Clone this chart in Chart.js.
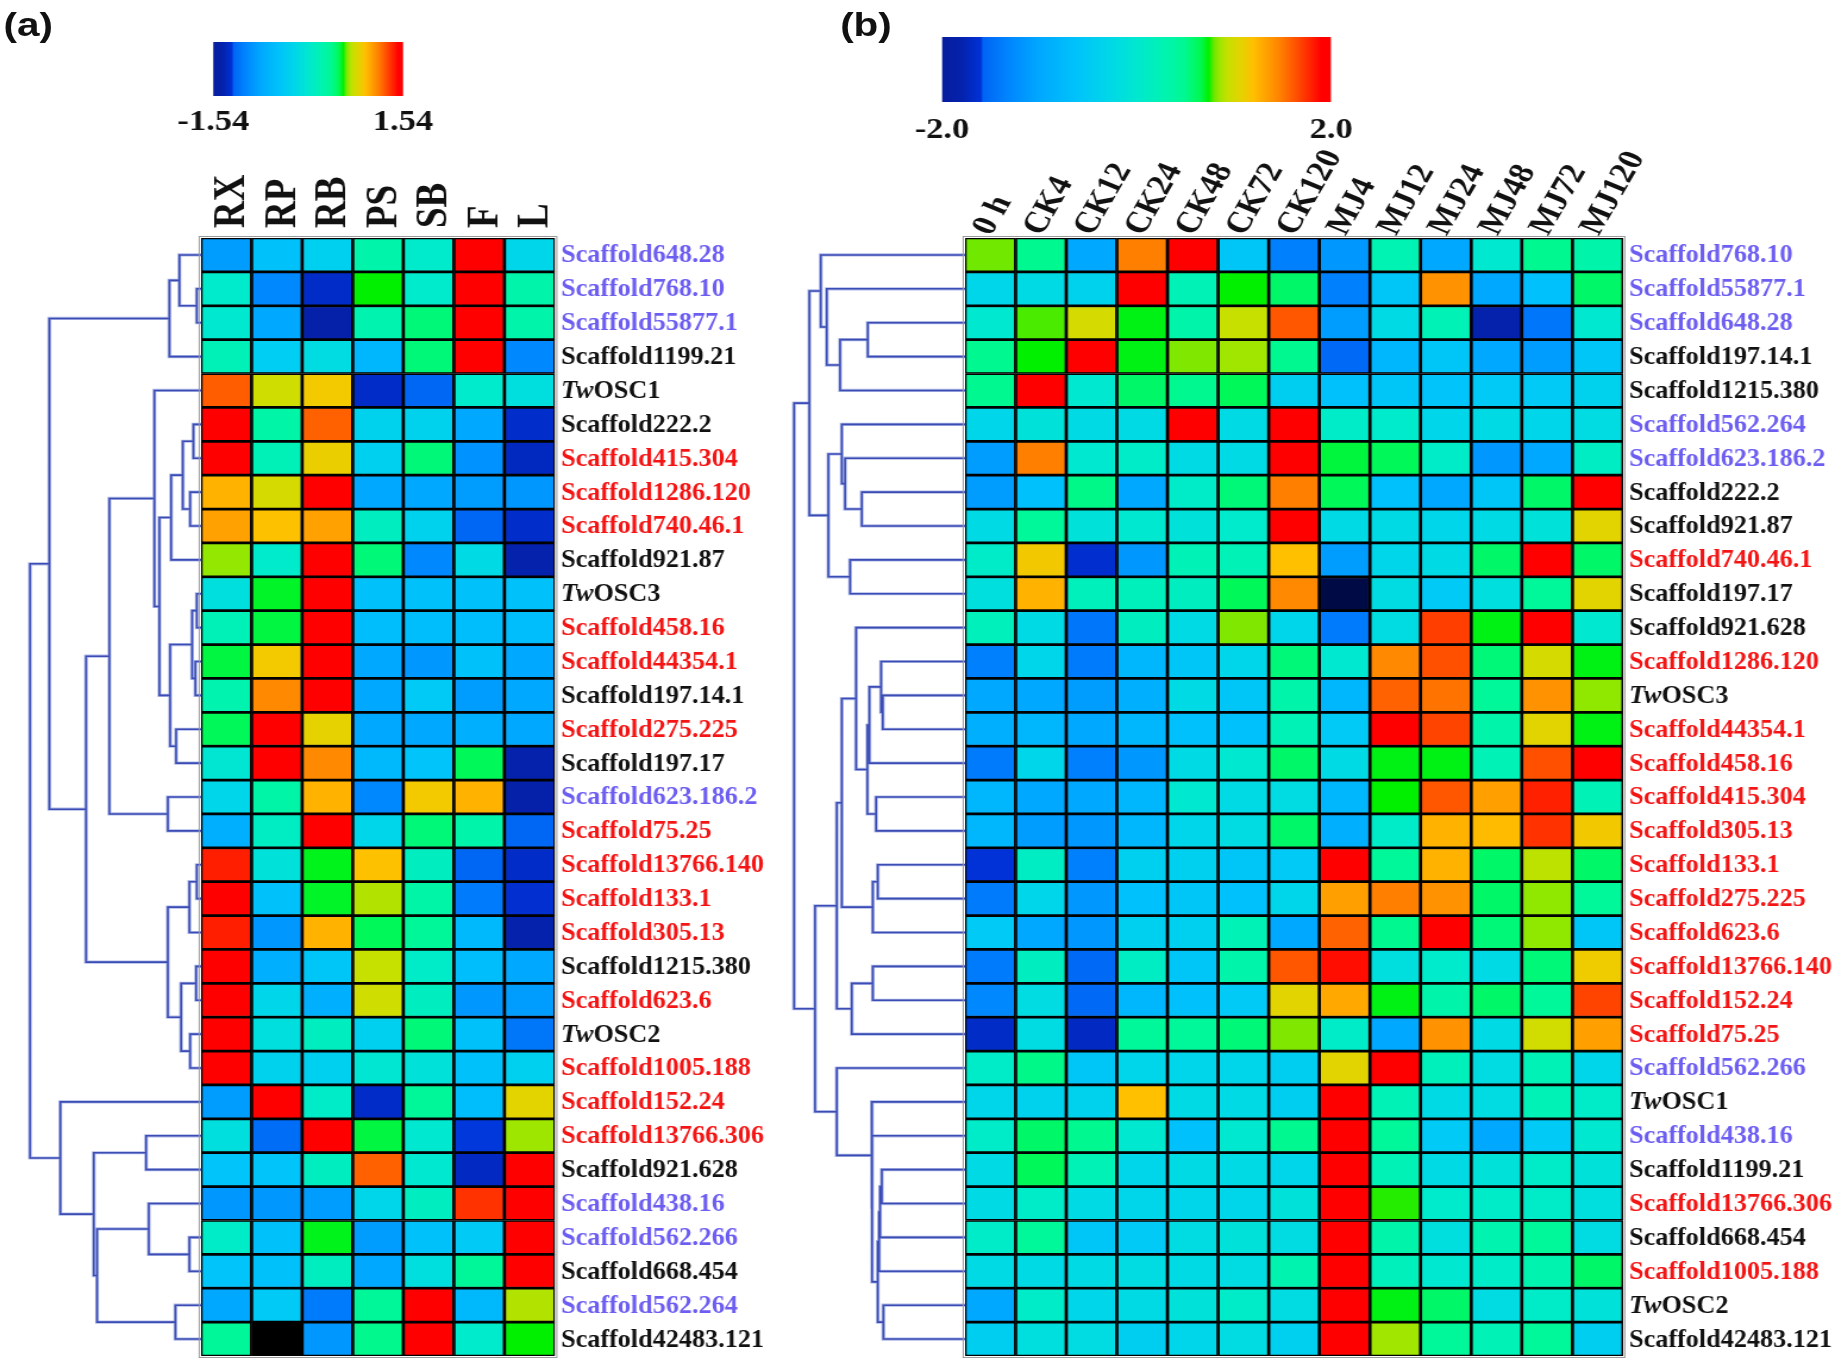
<!DOCTYPE html>
<html><head><meta charset="utf-8">
<script src="https://cdn.jsdelivr.net/npm/chart.js@4.4.1/dist/chart.umd.min.js"></script>
<style>
html,body{margin:0;padding:0;background:#fff;width:1840px;height:1362px;overflow:hidden}
#stage{position:absolute;left:0;top:0;width:1546px;height:1362px;transform:scaleX(1.19);transform-origin:0 0}
#stage canvas{position:absolute}
.panel{position:absolute;font:bold 34px "Liberation Sans",Arial,sans-serif;color:#111;line-height:1}
</style></head><body>
<div id="stage">
<div class="panel" style="left:3px;top:7px">(a)</div>
<div class="panel" style="left:706px;top:7px">(b)</div>
<canvas id="dendA" width="169" height="1362" style="left:0;top:0"></canvas>
<canvas id="heatA" width="540" height="1362" style="left:120px;top:0"></canvas>
<canvas id="cbA" width="240" height="106" style="left:140px;top:30px"></canvas>
<canvas id="dendB" width="156" height="1362" style="left:655px;top:0"></canvas>
<canvas id="heatB" width="766" height="1362" style="left:780px;top:0"></canvas>
<canvas id="cbB" width="420" height="125" style="left:750px;top:25px"></canvas>
</div>
<script>
// ---------------- DATA ----------------
const leftCols = ['RX','RP','RB','PS','SB','F','L'];
const rightCols = ['0 h','CK4','CK12','CK24','CK48','CK72','CK120','MJ4','MJ12','MJ24','MJ48','MJ72','MJ120'];

const leftRows = ['Scaffold648.28','Scaffold768.10','Scaffold55877.1','Scaffold1199.21','TwOSC1','Scaffold222.2','Scaffold415.304','Scaffold1286.120','Scaffold740.46.1','Scaffold921.87','TwOSC3','Scaffold458.16','Scaffold44354.1','Scaffold197.14.1','Scaffold275.225','Scaffold197.17','Scaffold623.186.2','Scaffold75.25','Scaffold13766.140','Scaffold133.1','Scaffold305.13','Scaffold1215.380','Scaffold623.6','TwOSC2','Scaffold1005.188','Scaffold152.24','Scaffold13766.306','Scaffold921.628','Scaffold438.16','Scaffold562.266','Scaffold668.454','Scaffold562.264','Scaffold42483.121'];

const rightRows = ['Scaffold768.10','Scaffold55877.1','Scaffold648.28','Scaffold197.14.1','Scaffold1215.380','Scaffold562.264','Scaffold623.186.2','Scaffold222.2','Scaffold921.87','Scaffold740.46.1','Scaffold197.17','Scaffold921.628','Scaffold1286.120','TwOSC3','Scaffold44354.1','Scaffold458.16','Scaffold415.304','Scaffold305.13','Scaffold133.1','Scaffold275.225','Scaffold623.6','Scaffold13766.140','Scaffold152.24','Scaffold75.25','Scaffold562.266','TwOSC1','Scaffold438.16','Scaffold1199.21','Scaffold13766.306','Scaffold668.454','Scaffold1005.188','TwOSC2','Scaffold42483.121'];

const redGenes = ['Scaffold415.304','Scaffold1286.120','Scaffold740.46.1','Scaffold458.16','Scaffold44354.1','Scaffold275.225','Scaffold75.25','Scaffold13766.140','Scaffold133.1','Scaffold305.13','Scaffold623.6','Scaffold1005.188','Scaffold152.24','Scaffold13766.306'];
const blueGenes = ['Scaffold648.28','Scaffold768.10','Scaffold55877.1','Scaffold623.186.2','Scaffold438.16','Scaffold562.266','Scaffold562.264'];

const leftValues = [
[-0.85,-0.49,-0.31,0.26,0.03,1.54,-0.23],
[0.03,-1.00,-1.29,0.57,0.03,1.54,0.26],
[0.00,-0.77,-1.42,0.23,0.43,1.54,0.26],
[0.18,-0.34,-0.15,-0.62,0.43,1.54,-1.00],
[1.23,0.75,0.88,-1.29,-1.20,0.03,-0.12],
[1.54,0.28,1.22,-0.28,-0.28,-0.77,-1.28],
[1.54,0.18,0.85,-0.31,0.43,-0.92,-1.32],
[0.97,0.77,1.54,-0.77,-0.77,-0.85,-0.89],
[1.03,0.92,1.03,0.12,-0.28,-1.20,-1.28],
[0.65,0.03,1.54,0.43,-1.00,-0.18,-1.39],
[-0.12,0.54,1.54,-0.49,-0.49,-0.49,-0.49],
[0.18,0.52,1.54,-0.54,-0.54,-0.54,-0.54],
[0.52,0.88,1.54,-0.77,-0.89,-0.49,-0.77],
[0.23,1.11,1.54,-0.77,-0.39,-0.85,-0.77],
[0.49,1.54,0.83,-0.77,-0.77,-0.69,-0.77],
[-0.03,1.54,1.11,-0.59,-0.46,0.49,-1.39],
[-0.23,0.28,0.97,-1.00,0.88,0.97,-1.42],
[-0.69,0.09,1.54,-0.23,0.43,0.26,-1.20],
[1.39,-0.09,0.55,0.92,0.12,-1.20,-1.29],
[1.54,-0.49,0.54,0.69,0.28,-1.08,-1.26],
[1.39,-0.89,0.97,0.49,0.34,-0.59,-1.39],
[1.54,-0.69,-0.43,0.72,0.06,-0.54,-0.77],
[1.54,-0.23,-0.69,0.75,0.12,-0.89,-0.85],
[1.54,-0.12,0.12,-0.31,0.43,-0.49,-1.11],
[1.54,-0.28,-0.31,-0.03,-0.08,-0.49,-0.31],
[-0.85,1.54,0.06,-1.29,0.34,-0.54,0.82],
[-0.12,-1.16,1.54,0.52,0.00,-1.23,0.66],
[-0.46,-0.46,0.12,1.22,0.00,-1.31,1.54],
[-0.89,-0.89,-0.85,-0.23,0.12,1.34,1.54],
[0.06,-0.49,0.55,-0.85,-0.49,-0.39,1.54],
[-0.46,-0.49,0.12,-0.77,-0.12,0.34,1.54],
[-0.77,-0.39,-1.08,0.34,1.54,-0.59,0.69],
[0.34,null,-0.89,0.39,1.54,0.03,0.57]
];

const rightValues = [
[0.8,0.5,-1.0,1.48,2.0,-0.56,-1.36,-1.16,0.28,-1.0,0,0.5,0.34],
[-0.3,-0.24,-0.36,2.0,0.24,0.74,0.6,-1.36,-0.56,1.4,-1.0,-0.64,0.6],
[0,0.78,1.0,0.72,0.34,0.94,1.62,-1.1,-0.24,0.24,-1.8,-1.44,0],
[0.5,0.74,2.0,0.72,0.82,0.86,0.5,-1.54,-0.8,-0.56,-1.0,-1.1,-0.56],
[0.5,2.0,0,0.6,0.5,0.64,-0.44,-0.64,-0.56,-0.6,-0.5,-0.5,-0.36],
[-0.3,-0.1,-0.24,-0.24,2.0,-0.24,2.0,0.08,0.04,-0.3,-0.24,-0.3,-0.2],
[-1.1,1.48,0,0.08,-0.24,-0.24,2.0,0.68,0.64,0.08,-1.16,-1.0,0.12],
[-1.1,-0.64,0.52,-1.0,0.08,0.56,1.48,0.64,-0.64,-1.0,-0.56,0.6,2.0],
[-0.24,0.44,-0.1,0,-0.1,0.04,2.0,-0.24,-0.24,-0.3,-0.24,-0.1,1.06],
[0.08,1.14,-1.64,-1.16,0.24,0.24,1.2,-1.1,-0.3,-0.24,0.6,2.0,0.6],
[-0.16,1.26,0.2,0.2,0.16,0.64,1.44,-2.4,-0.2,-0.5,-0.16,0.44,1.06],
[0.2,-0.24,-1.44,0.16,-0.24,0.82,-0.3,-1.4,-0.2,1.7,0.72,2.0,0],
[-1.36,-0.3,-1.4,-0.8,-0.56,-0.3,0.56,0,1.44,1.64,0.56,1.0,0.72],
[-1.0,-1.0,-1.1,-0.9,-0.24,-0.56,0.34,-0.8,1.58,1.52,0.44,1.4,0.84],
[-0.9,-0.8,-1.0,-0.8,-0.64,-0.64,0.24,-0.5,2.0,1.68,0.34,1.06,0.72],
[-1.4,-0.3,-1.36,-1.16,-0.24,0,0.6,-0.24,0.72,0.72,0.24,1.64,2.0],
[-0.8,-1.0,-1.0,-0.8,0,-0.24,-0.2,-0.8,0.74,1.62,1.34,1.8,0.24],
[-0.8,-1.1,-1.16,-0.8,-0.3,-0.2,0.6,-0.9,0.08,1.26,1.22,1.74,1.14],
[-1.6,0.12,-1.36,-0.4,-0.4,-0.56,-0.5,2.0,0.44,1.26,0.6,0.92,0.6],
[-1.4,-0.3,-1.16,-0.64,-0.56,-0.64,-0.3,1.34,1.48,1.4,0.6,0.84,0.44],
[-0.5,-1.0,-1.16,-0.4,-0.4,0.24,-1.0,1.58,0.5,2.0,0.56,0.84,-0.56],
[-1.4,0.16,-1.54,0.12,-0.56,0.34,1.62,1.86,-0.16,0.04,-0.24,0.56,1.12],
[-1.3,-0.2,-1.54,-0.8,-0.64,-0.5,1.06,1.3,0.72,0.34,0.6,0.44,1.68],
[-1.68,-0.2,-1.7,0.44,0.44,0.56,0.82,0.08,-1.0,1.4,-0.24,0.98,1.34],
[0.08,0.52,-0.56,-0.3,-0.3,-0.3,-0.44,1.06,2.0,0.2,-0.2,0.24,-0.3],
[-0.3,-0.36,-0.36,1.2,-0.24,-0.24,-0.44,2.0,0.24,-0.24,-0.2,0.24,0.08],
[0.08,0.6,0.5,0,-0.64,0,0.5,2.0,0.44,-0.5,-1.0,-0.5,0],
[-0.24,0.64,0.24,-0.3,-0.24,-0.24,-0.3,2.0,0.24,-0.24,-0.1,0.08,-0.1],
[-0.24,0.08,-0.24,-0.3,-0.3,-0.3,-0.12,2.0,0.76,0.04,0.08,0.08,-0.16],
[0.08,0.44,-0.56,-0.5,-0.2,-0.1,-0.2,2.0,0.34,-0.16,0.3,0.44,-0.2],
[-0.24,-0.24,-0.24,-0.2,-0.24,-0.2,0.3,2.0,0.2,0,0.08,0.3,0.6],
[-1.0,0.08,-0.3,-0.24,-0.1,0.08,-0.2,2.0,0.72,0.6,-0.2,0.08,-0.1],
[-0.44,-0.16,-0.2,-0.44,-0.3,-0.2,-0.4,2.0,0.86,0.44,0.24,0.44,-0.44]
];

const leftRange = [-1.54, 1.54];
const rightRange = [-2.0, 2.0];
const leftRangeLabels = ['-1.54', '1.54'];
const rightRangeLabels = ['-2.0', '2.0'];

// dendrogram merges [childA, childB, height]; ids >= n are earlier merges (n + k)
const leftMerges = [
[1,2,4.3],[0,33,21.7],[34,3,31.7],[5,6,7.7],[7,8,11],[36,37,18.3],[38,9,30],
[10,11,4.3],[12,13,5.7],[40,41,9],[14,15,25],[42,43,31],[39,44,41.7],[4,45,46.7],
[16,17,33.3],[46,47,91.7],[18,19,4.3],[49,20,11.7],[21,22,5],[23,24,11],[51,52,20],
[50,53,33.3],[48,54,115],[35,55,151.7],[26,27,55],[29,30,11.7],[28,58,52.3],
[31,32,25.7],[59,60,104],[57,61,107.3],[25,62,140.7],[56,63,171]
];
const rightMerges = [
[2,3,97.3],[33,4,125],[1,34,138.3],[0,35,144.3],[7,8,103.3],[6,37,120],[5,38,123.3],
[9,10,115],[39,40,136.7],[36,41,155.7],
[13,14,82.3],[12,43,84],[44,15,95.7],[16,17,89],[45,46,97.7],[11,47,109],
[18,19,87.3],[49,20,92.3],[48,50,123.3],[21,22,92.3],[52,23,113.3],[51,53,128.3],
[31,32,81.7],[27,28,83.3],[56,29,85],[57,30,86],[58,55,87.3],[26,59,93],[25,60,93.3],
[24,61,128.3],[54,62,150],[42,63,171]
];

// ---------------- COLOUR SCALE ----------------
const stops = [
[-1.2,'#000a45'],[-1.0,'#081c9e'],[-0.9,'#0422ac'],[-0.8,'#0032d8'],[-0.79,'#0064f4'],[-0.65,'#0088ff'],
[-0.5,'#00a8ff'],[-0.3,'#00c4fa'],[-0.15,'#00d6ea'],[0.0,'#00e8d0'],[0.15,'#00f4b0'],
[0.25,'#00f890'],[0.33,'#00f850'],[0.37,'#00f000'],[0.40,'#70e800'],[0.43,'#a0e600'],
[0.47,'#c8e000'],[0.54,'#e6d200'],[0.60,'#ffc000'],[0.67,'#ffa000'],[0.74,'#ff8000'],
[0.82,'#ff5000'],[0.90,'#ff2000'],[0.95,'#ff0000'],[1.0,'#ff0000']
];
function hex(c){return [parseInt(c.slice(1,3),16),parseInt(c.slice(3,5),16),parseInt(c.slice(5,7),16)];}
function cellColor(v, vmax){
  if (v === null || v === undefined) return '#000000';
  let p = v / vmax;
  if (p <= stops[0][0]) return stops[0][1];
  if (p >= 1) return stops[stops.length-1][1];
  for (let i=1;i<stops.length;i++){
    if (p <= stops[i][0]){
      const [p0,c0]=stops[i-1],[p1,c1]=stops[i];
      const t=(p-p0)/(p1-p0), a=hex(c0), b=hex(c1);
      return 'rgb('+a.map((x,k)=>Math.round(x+(b[k]-x)*t)).join(',')+')';
    }
  }
  return stops[stops.length-1][1];
}
function nameColor(n){
  if (redGenes.includes(n)) return '#f41414';
  if (blueGenes.includes(n)) return '#6d5ef2';
  return '#111111';
}

// ---------------- PLUGINS ----------------
const rowLabelPlugin = {
  id: 'rowLabels',
  afterDraw(chart, args, opts){
    const {ctx, chartArea} = chart;
    const ys = chart.scales.y;
    const fs = opts.size, sx = opts.squeeze;
    ctx.save();
    ctx.textBaseline = 'middle';
    ctx.textAlign = 'left';
    opts.names.forEach((name, i) => {
      const py = ys.getPixelForValue(i + 0.5) + 1;
      const x0 = chartArea.right + opts.gap;
      ctx.save();
      ctx.translate(x0, py);
      ctx.scale(sx, 1);
      ctx.fillStyle = nameColor(name);
      if (name.startsWith('Tw')) {
        ctx.font = 'italic bold ' + fs + 'px "Liberation Serif", serif';
        ctx.fillText('Tw', 0, 0);
        const w = ctx.measureText('Tw').width;
        ctx.font = 'bold ' + fs + 'px "Liberation Serif", serif';
        ctx.fillText(name.slice(2), w, 0);
      } else {
        ctx.font = 'bold ' + fs + 'px "Liberation Serif", serif';
        ctx.fillText(name, 0, 0);
      }
      ctx.restore();
    });
    ctx.restore();
  }
};

const framePlugin = {
  id: 'frame',
  afterDraw(chart){
    const {ctx, chartArea: a} = chart;
    ctx.save();
    ctx.strokeStyle = '#9a9a9a';
    ctx.lineWidth = 1;
    ctx.strokeRect(a.left - 1.5, a.top - 1.5, a.right - a.left + 3, a.bottom - a.top + 3);
    ctx.restore();
  }
};

Chart.defaults.animation = false;
Chart.defaults.font.family = '"Liberation Serif", "Times New Roman", serif';

function makeHeat(id, cols, rows, values, range, tickFont, rotation, tickPad, labelOffset, pad){
  const vmax = range[1];
  return new Chart(document.getElementById(id), {
    type: 'bar',
    data: {
      labels: cols,
      datasets: rows.map((r,i)=>({
        label: r,
        data: cols.map(()=>1),
        backgroundColor: values[i].map(v=>cellColor(v, vmax)),
        borderColor: '#000', borderWidth: 1.7, borderSkipped: false,
        barPercentage: 1, categoryPercentage: 1
      }))
    },
    options: {
      responsive: false, animation: false,
      layout: {padding: pad},
      plugins: {legend:{display:false}, tooltip:{enabled:false},
                rowLabels:{names: rows, gap: 5, size: 25, squeeze: 0.88}},
      scales: {
        x: {type:'category', position:'top', stacked:true, offset:true,
            grid:{display:false, drawTicks:false}, border:{display:false},
            ticks:{autoSkip:false, minRotation:rotation, maxRotation:rotation, padding:tickPad,
                   labelOffset:labelOffset, color:'#111', font:tickFont},
            afterFit:(s)=>{ s.height = 238 - pad.top; }},
        y: {type:'linear', display:false, stacked:true, min:0, max:rows.length, reverse:true}
      }
    },
    plugins: [rowLabelPlugin, framePlugin]
  });
}

function dendroPoints(merges, n){
  const pos=[], hgt=[], pts=[];
  for (let i=0;i<n;i++){ pos[i]=i+0.5; hgt[i]=0; }
  merges.forEach(([a,b,h],k)=>{
    pts.push({x:hgt[a],y:pos[a]},{x:h,y:pos[a]},{x:h,y:pos[b]},{x:hgt[b],y:pos[b]},{x:NaN,y:NaN});
    pos[n+k]=(pos[a]+pos[b])/2; hgt[n+k]=h;
  });
  return pts;
}
function makeDendro(id, merges, n, xmax){
  const pts = dendroPoints(merges, n);
  return new Chart(document.getElementById(id), {
    type: 'scatter',
    data: { datasets: [
      {data: pts.map(p=>({...p})), showLine:true, borderColor:'rgba(95,115,205,0.5)', borderWidth:3.2, pointRadius:0, spanGaps:false},
      {data: pts.map(p=>({...p})), showLine:true, borderColor:'#16259c', borderWidth:1.6, pointRadius:0, spanGaps:false}
    ]},
    options: {
      responsive:false, animation:false,
      layout:{padding:{top:238,bottom:6,left:0,right:0}},
      plugins:{legend:{display:false}, tooltip:{enabled:false}},
      scales:{
        x:{type:'linear', display:false, min:0, max:xmax, reverse:true},
        y:{type:'linear', display:false, min:0, max:n, reverse:true}
      }
    }
  });
}

function makeBar(id, range, labels, pad, axisH, tickPad, fontSize){
  return new Chart(document.getElementById(id), {
    type: 'bar',
    data: { labels: ['scale'], datasets: [{
      data: [[range[0], range[1]]],
      backgroundColor: (c)=>{
        const ca = c.chart.chartArea;
        if (!ca) return 'transparent';
        const g = c.chart.ctx.createLinearGradient(ca.left,0,ca.right,0);
        stops.filter(s=>s[0]>=-1).forEach(([p,col])=>g.addColorStop((p+1)/2, col));
        return g;
      },
      borderWidth: 0, barPercentage: 1, categoryPercentage: 1
    }]},
    options: {
      indexAxis: 'y', responsive:false, animation:false,
      layout:{padding:pad},
      plugins:{legend:{display:false}, tooltip:{enabled:false}},
      scales:{
        x:{type:'linear', min:range[0], max:range[1], position:'bottom',
           grid:{display:false, drawTicks:false}, border:{display:false},
           afterBuildTicks:(s)=>{ s.ticks = range.map(v=>({value:v})); },
           ticks:{padding:tickPad, color:'#111', font:{size:fontSize, weight:'bold'}, maxRotation:0,
                  callback:(v,i)=>labels[i]},
           afterFit:(s)=>{ s.height = axisH; }},
        y:{display:false}
      }
    }
  });
}

makeDendro('dendA', leftMerges, leftRows.length, 201);
makeDendro('dendB', rightMerges, rightRows.length, 185.6);
makeHeat('heatA', leftCols, leftRows, leftValues, leftRange,
  {size:37, weight:'bold'}, 90, 10, 50, {top:0, bottom:6, left:48.9, right:193.6});
makeHeat('heatB', rightCols, rightRows, rightValues, rightRange,
  {size:30, weight:'bold'}, 64, -3, 26, {top:0, bottom:6, left:30.9, right:182.1});
makeBar('cbA', leftRange, leftRangeLabels, {left:35.6, right:41.3, top:12, bottom:0}, 40, 9, 29);
makeBar('cbB', rightRange, rightRangeLabels, {left:41.6, right:51.5, top:12, bottom:0}, 48, 11, 29);
</script>
</body></html>
